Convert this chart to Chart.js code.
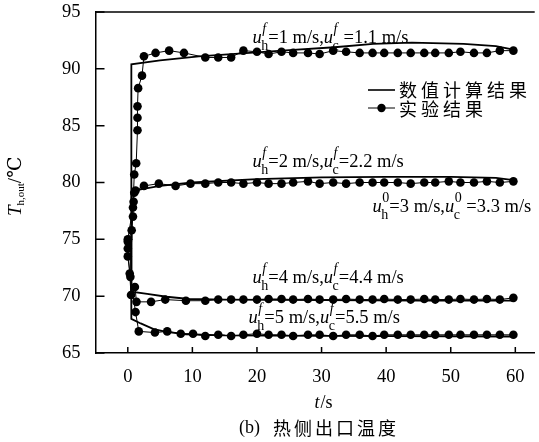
<!DOCTYPE html>
<html>
<head>
<meta charset="utf-8">
<script src="https://cdn.jsdelivr.net/npm/chart.js@4"></script>
<style>
  html, body { margin: 0; padding: 0; background: #fff; }
  #wrap { width: 539px; height: 442px; position: relative; }
</style>
</head>
<body>
<div id="wrap"><canvas id="chart"></canvas></div>
<script>
// tick labels
const xTickVals = [0, 10, 20, 30, 40, 50, 60];
const yTickVals = [65, 70, 75, 80, 85, 90, 95];

// shared sample times of the experiment after ~24 s
const tTail = [25.6, 27.9, 29.7, 31.8, 33.8, 35.9, 37.9, 39.7, 41.8, 43.8, 45.9, 47.6, 49.7, 51.5, 53.6, 55.6, 57.6, 59.7];

// experiment (points), case uh=1 m/s
const exp1T = [0, 0.8, 1.0, 1.3, 1.5, 1.5, 1.5, 1.6, 2.2, 2.5, 4.3, 6.4, 8.7, 12.0, 14.0, 16.0, 17.9, 20.0, 21.8, 23.8].concat(tTail);
const exp1Y = [75.0, 77.8, 80.7, 81.7, 84.6, 85.7, 86.7, 88.3, 89.4, 91.1, 91.4, 91.6, 91.4, 91.0, 91.0, 91.0, 91.6, 91.5, 91.3, 91.5,
  91.4, 91.4, 91.3, 91.6, 91.5, 91.4, 91.4, 91.4, 91.4, 91.4, 91.4, 91.4, 91.4, 91.5, 91.4, 91.4, 91.6, 91.6];
// case uh=2 m/s
const exp2T = [0, 0.6, 0.8, 0.9, 1.0, 1.2, 2.5, 4.8, 7.4, 9.7, 12.0, 14.0, 16.0, 17.9, 20.0, 21.8, 23.8].concat(tTail);
const exp2Y = [74.8, 75.8, 77.0, 78.3, 79.1, 79.3, 79.7, 79.9, 79.7, 79.9, 79.9, 80.0, 80.0, 79.9, 80.0, 79.9, 79.9,
  80.0, 80.1, 79.9, 80.0, 79.9, 80.0, 80.0, 80.0, 80.0, 79.9, 80.0, 80.0, 80.1, 80.0, 80.0, 80.1, 80.0, 80.1];
// case uh=4 m/s
const exp4T = [0, 0.3, 0.5, 1.1, 1.35, 3.6, 5.8, 9.0, 12.0, 14.0, 16.0, 17.9, 20.0, 21.8, 23.8].concat(tTail);
const exp4Y = [74.2, 72.0, 70.1, 70.8, 69.5, 69.5, 69.7, 69.6, 69.6, 69.7, 69.7, 69.7, 69.7, 69.75, 69.75,
  69.7, 69.75, 69.7, 69.7, 69.75, 69.7, 69.7, 69.75, 69.7, 69.7, 69.75, 69.7, 69.7, 69.75, 69.7, 69.75, 69.7, 69.85];
// case uh=5 m/s
const exp5T = [0, 0.4, 1.2, 1.7, 4.2, 6.1, 8.2, 10.1, 12.0, 14.0, 16.0, 17.9, 20.0, 21.8, 23.8].concat(tTail);
const exp5Y = [73.5, 71.7, 68.6, 66.9, 66.8, 66.9, 66.7, 66.7, 66.5, 66.6, 66.5, 66.6, 66.7, 66.6, 66.6,
  66.5, 66.6, 66.6, 66.5, 66.6, 66.6, 66.5, 66.6, 66.6, 66.6, 66.6, 66.6, 66.6, 66.6, 66.6, 66.6, 66.6, 66.6];

// numerical results (lines)
const num1T = [0.5, 0.55, 5, 11, 25, 32, 38, 44, 52, 57, 59.7];
const num1Y = [75, 90.4, 90.75, 91.1, 91.65, 91.9, 92.2, 92.3, 92.2, 92.0, 91.7];
const num2T = [0.5, 0.6, 2, 5, 10, 20, 30, 40, 50, 57, 59.7];
const num2Y = [75, 79.2, 79.4, 79.7, 80.0, 80.3, 80.45, 80.5, 80.5, 80.4, 80.2];
const num4T = [0.5, 0.55, 3, 6, 9.5, 15, 30, 45, 59.7];
const num4Y = [75, 70.4, 70.2, 69.95, 69.75, 69.7, 69.65, 69.6, 69.6];
const num5T = [0.5, 0.55, 2, 4, 6, 9, 15, 30, 59.7];
const num5Y = [75, 68.0, 67.6, 67.1, 66.85, 66.65, 66.55, 66.5, 66.45];

// curve labels: [sup, sub, text, sup2, sub2, text2]
const caseLabels = [
  ['f', 'h', '=1 m/s,', 'f', 'c', ' =1.1 m/s'],
  ['f', 'h', '=2 m/s,', 'f', 'c', '=2.2 m/s'],
  ['0', 'h', '=3 m/s,', '0', 'c', ' =3.3 m/s'],
  ['f', 'h', '=4 m/s,', 'f', 'c', '=4.4 m/s'],
  ['f', 'h', '=5 m/s,', 'f', 'c', '=5.5 m/s']
];
// where each label starts (data coordinates: t, T of baseline)
const labelAnchors = [[19.3, 92.27], [19.3, 81.37], [37.9, 77.41], [19.3, 71.17], [18.7, 67.65]];

const legendNames = ['数值计算结果', '实验结果'];

function pts(ts, ys) {
  return ts.map((t, i) => ({ x: t, y: ys[i] }));
}

const SERIF = '"Liberation Serif", "DejaVu Serif", serif';
const CJK = '"Noto Sans CJK SC", sans-serif';
const LBL = 18.5;

function numSet(ts, ys) {
  return { data: pts(ts, ys), showLine: true, borderColor: '#000', borderWidth: 1.8, pointRadius: 0, tension: 0 };
}
function expSet(ts, ys) {
  return {
    data: pts(ts, ys), showLine: true, borderColor: '#000', borderWidth: 1,
    pointRadius: 4.3, pointBackgroundColor: '#000', pointBorderColor: '#000', pointBorderWidth: 0
  };
}

// u with stacked superscript / subscript, returns x after it
function drawU(ctx, x, y, sup, sub, size) {
  ctx.font = 'italic ' + size + 'px ' + SERIF;
  ctx.fillText('u', x, y);
  x += ctx.measureText('u').width - 0.5;
  const s = Math.round(size * 0.76);
  ctx.font = (sup === 'f' ? 'italic ' : '') + s + 'px ' + SERIF;
  ctx.fillText(sup, x + 1, y - size * 0.52);
  const w1 = ctx.measureText(sup).width + 1;
  ctx.font = s + 'px ' + SERIF;
  ctx.fillText(sub, x, y + size * 0.38);
  const w2 = ctx.measureText(sub).width;
  return x + Math.max(w1, w2);
}

const decor = {
  id: 'decor',
  afterDraw(chart) {
    const ctx = chart.ctx;
    const a = chart.chartArea;
    const xs = chart.scales.x, ys = chart.scales.y;
    ctx.save();
    ctx.strokeStyle = '#000';
    ctx.fillStyle = '#000';
    ctx.lineWidth = 1.5;
    // top frame line
    ctx.beginPath();
    ctx.moveTo(a.left, a.top);
    ctx.lineTo(a.right, a.top);
    ctx.stroke();
    // inward ticks
    ctx.beginPath();
    yTickVals.forEach(v => {
      const p = ys.getPixelForValue(v);
      ctx.moveTo(a.left, p); ctx.lineTo(a.left + 9, p);
    });
    xTickVals.forEach(v => {
      const p = xs.getPixelForValue(v);
      ctx.moveTo(p, a.bottom); ctx.lineTo(p, a.bottom - 6);
    });
    ctx.stroke();

    // curve labels
    ctx.textAlign = 'left';
    ctx.textBaseline = 'alphabetic';
    caseLabels.forEach((l, i) => {
      let x = xs.getPixelForValue(labelAnchors[i][0]);
      const y = ys.getPixelForValue(labelAnchors[i][1]);
      x = drawU(ctx, x, y, l[0], l[1], LBL);
      ctx.font = LBL + 'px ' + SERIF;
      ctx.fillText(l[2], x, y);
      x += ctx.measureText(l[2]).width;
      x = drawU(ctx, x, y, l[3], l[4], LBL);
      ctx.font = LBL + 'px ' + SERIF;
      ctx.fillText(l[5], x, y);
    });

    // legend
    ctx.lineWidth = 1.6;
    ctx.beginPath();
    ctx.moveTo(368, 90); ctx.lineTo(395, 90);
    ctx.stroke();
    ctx.lineWidth = 1;
    ctx.beginPath();
    ctx.moveTo(368, 108); ctx.lineTo(395, 108);
    ctx.stroke();
    ctx.beginPath();
    ctx.arc(381.5, 108, 4.2, 0, Math.PI * 2);
    ctx.fill();
    ctx.font = '18px ' + CJK;
    ctx.letterSpacing = '4px';
    ctx.textBaseline = 'middle';
    ctx.fillText(legendNames[0], 399, 90);
    ctx.fillText(legendNames[1], 399, 109);

    // caption
    ctx.letterSpacing = '0px';
    ctx.font = '18px ' + SERIF;
    ctx.fillText('(b)', 239, 428);
    ctx.font = '18px ' + CJK;
    ctx.letterSpacing = '3px';
    ctx.fillText('热侧出口温度', 273, 428);
    ctx.letterSpacing = '0px';

    // x title
    ctx.font = 'italic 18px ' + SERIF;
    const tw = ctx.measureText('t').width;
    ctx.font = '18px ' + SERIF;
    const sw = ctx.measureText('/s').width;
    const tx = 323 - (tw + sw) / 2;
    ctx.font = 'italic 18px ' + SERIF;
    ctx.fillText('t', tx, 403);
    ctx.font = '18px ' + SERIF;
    ctx.fillText('/s', tx + tw + 1, 403);

    // y title, rotated
    ctx.translate(21, 216);
    ctx.rotate(-Math.PI / 2);
    ctx.textBaseline = 'alphabetic';
    ctx.font = 'italic 19px ' + SERIF;
    ctx.fillText('T', 0, 0);
    let yx = ctx.measureText('T').width;
    ctx.font = '11px ' + SERIF;
    ctx.fillText('h,out', yx, 3);
    yx += ctx.measureText('h,out').width;
    ctx.font = '19px ' + SERIF;
    ctx.fillText('/℃', yx, 0);
    ctx.restore();
  }
};

new Chart(document.getElementById('chart'), {
  type: 'scatter',
  data: {
    datasets: [
      numSet(num1T, num1Y), numSet(num2T, num2Y), numSet(num4T, num4Y), numSet(num5T, num5Y),
      expSet(exp1T, exp1Y), expSet(exp2T, exp2Y), expSet(exp4T, exp4Y), expSet(exp5T, exp5Y)
    ]
  },
  options: {
    responsive: true,
    maintainAspectRatio: false,
    animation: false,
    layout: { padding: { top: 12, right: 0, left: 0, bottom: 0 } },
    plugins: { legend: { display: false }, tooltip: { enabled: false } },
    scales: {
      x: {
        type: 'linear', min: -5, max: 63,
        afterBuildTicks: s => { s.ticks = xTickVals.map(v => ({ value: v })); },
        afterFit: s => { s.height = 89; s.paddingLeft = 0; s.paddingRight = 0; },
        grid: { display: false, drawTicks: false },
        border: { display: true, color: '#000', width: 1.5 },
        ticks: { color: '#000', padding: 13, maxRotation: 0, font: { family: SERIF, size: 18.5 } }
      },
      y: {
        type: 'linear', min: 65, max: 95,
        afterBuildTicks: s => { s.ticks = yTickVals.map(v => ({ value: v })); },
        afterFit: s => { s.width = 95.5; s.paddingTop = 0; s.paddingBottom = 0; },
        grid: { display: false, drawTicks: false },
        border: { display: true, color: '#000', width: 1.5 },
        ticks: { color: '#000', padding: 15, font: { family: SERIF, size: 18.5 } }
      }
    }
  },
  plugins: [decor]
});
</script>
</body>
</html>
